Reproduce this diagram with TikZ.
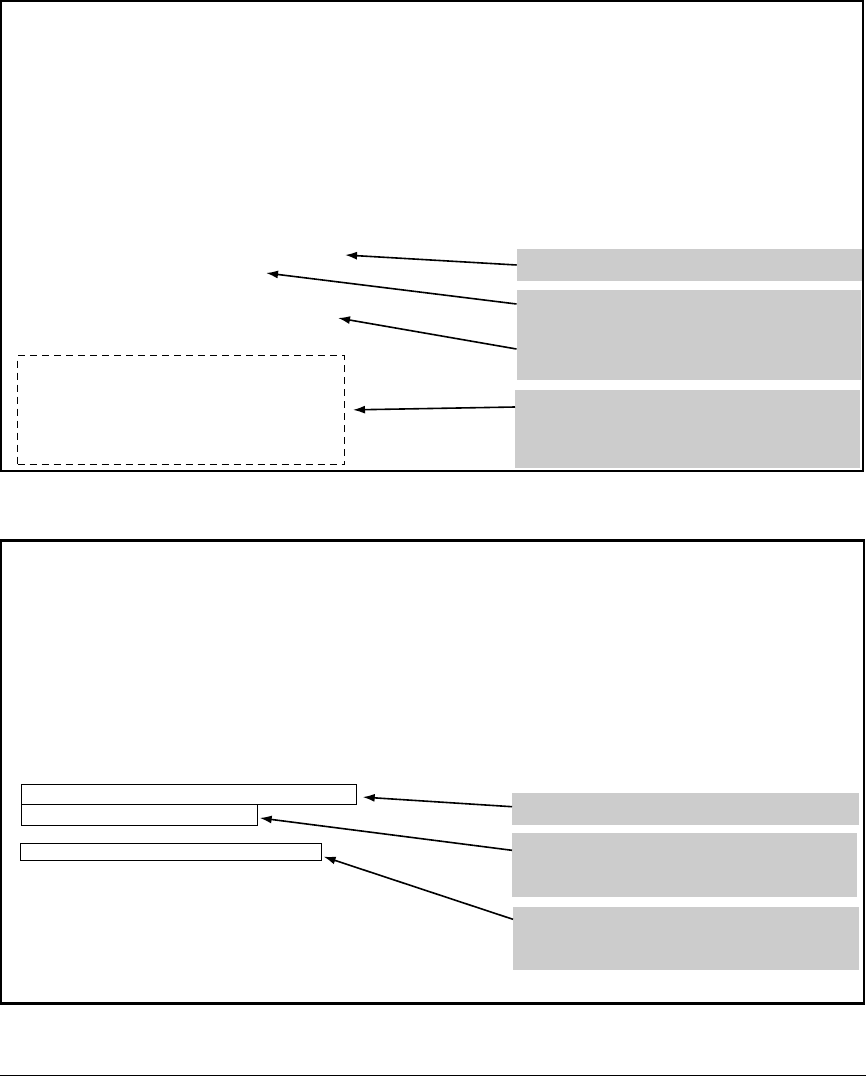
\documentclass[tikz,border=0pt]{standalone}
\usepackage{tikz}
\usetikzlibrary{
  arrows.meta,
  positioning,
}
\definecolor{calloutgray}{HTML}{CCCCCC}

\begin{document}
\begin{tikzpicture}[
  x=1pt, y=-1pt,
  frame/.style={draw, line width=2.4pt},
  callout/.style={fill=calloutgray, inner sep=0pt, outer sep=0pt, anchor=north west},
  field/.style={draw, line width=1pt, inner sep=0pt, outer sep=0pt, anchor=north west},
  pointer/.style={draw, line width=1.6pt, -{Latex[length=12pt,width=8pt]}},
]
  \useasboundingbox (0,0) rectangle (866,1076);

  % Screen frames
  \draw[frame] (1.2,1.2) rectangle (863,471);
  \draw[frame] (1.2,540.5) rectangle (864,1003.5);
  \draw[line width=1pt] (0,1075) -- (866,1075);

  % Upper screen: callout boxes
  \node[callout, minimum width=345.3pt, minimum height=32pt] (ua) at (516.7,249) {};
  \node[callout, minimum width=344.5pt, minimum height=90pt] (ub) at (516.5,290) {};
  \node[callout, minimum width=345pt,   minimum height=78pt] (uc) at (515,390) {};

  % Upper screen: targets
  \node[draw, dash pattern=on 7pt off 5pt, line width=1pt, inner sep=0pt,
        minimum width=327pt, minimum height=109pt, anchor=north west] (area) at (17,355) {};
  \coordinate (ta) at (345,255);
  \coordinate (tb) at (266,273);
  \coordinate (tc) at (338,318);

  % Upper screen: pointers
  \draw[pointer] (ua.west) -- (ta);
  \draw[pointer] ([yshift=-14pt]ub.north west) -- (tb);
  \draw[pointer] ([yshift=-59pt]ub.north west) -- (tc);
  \draw[pointer, shorten >=8pt] ([yshift=-17pt]uc.north west) -- (area.east);

  % Lower screen: input fields
  \node[field, minimum width=335pt, minimum height=20pt] (fa) at (21.7,784.3) {};
  \node[field, minimum width=236pt, minimum height=20.6pt] (fb) at (21.7,804.7) {};
  \node[field, minimum width=301pt, minimum height=17.4pt] (fc) at (20.7,843.3) {};

  % Lower screen: callout boxes
  \node[callout, minimum width=347pt, minimum height=32.3pt] (la) at (512,792.7) {};
  \node[callout, minimum width=345pt, minimum height=63.4pt] (lb) at (512,833.3) {};
  \node[callout, minimum width=346pt, minimum height=63.3pt] (lc) at (513,906.7) {};

  % Lower screen: pointers
  \draw[pointer, shorten >=6pt] ([yshift=-14pt]la.north west) -- ([yshift=-2.4pt]fa.east);
  \draw[pointer, shorten >=2pt] ([yshift=-17pt]lb.north west) -- ([yshift=-2.7pt]fb.east);
  \draw[pointer, shorten >=2pt] ([yshift=-12.6pt]lc.north west) -- ([yshift=-4pt]fc.east);
\end{tikzpicture}
\end{document}
